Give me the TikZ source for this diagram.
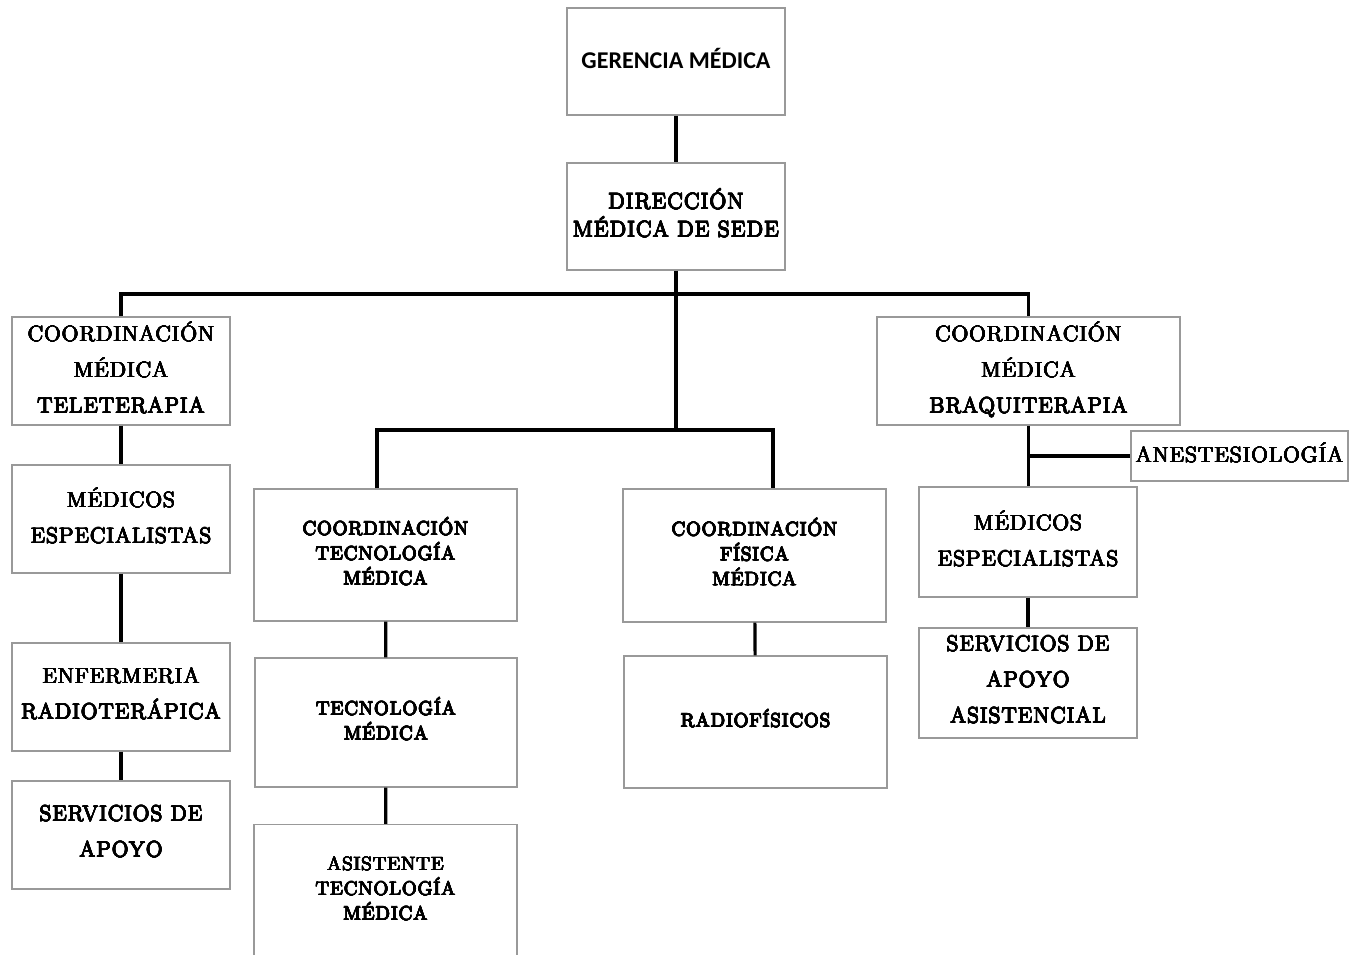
\documentclass[tikz,border=0pt]{standalone}
\usepackage{fontspec}
\usepackage[copies]{contour}
\usepackage{tikz}
\usetikzlibrary{positioning}
\newfontfamily\gerfont{Carlito}
\newfontfamily\cajafont{Latin Modern Roman}[LetterSpace=4]
\contourlength{0.22pt}
\contournumber{12}
\newcommand{\gr}[1]{\contour{black}{#1}}

\tikzset{
  caja/.style={rectangle, draw=black!40, line width=0.8pt, align=center, inner sep=1pt,
    text depth=4pt, font=\cajafont\fontsize{12.5}{20.4}\selectfont},
  cajachica/.style={caja, font=\cajafont\fontsize{10.9}{14.2}\selectfont},
  linea/.style={line width=1.8pt, black}
}

\begin{document}
\begin{tikzpicture}[x=0.02cm, y=-0.02cm]
  \useasboundingbox[fill=white] (0,0) rectangle (1353,954);

  % nivel superior
  \node[caja, minimum width=4.36cm, minimum height=2.14cm, font=\gerfont\bfseries\fontsize{13.7}{16}\selectfont] (ger) at (676,61.5) {GERENCIA MÉDICA};
  \node[caja, minimum width=4.36cm, minimum height=2.14cm, font=\cajafont\fontsize{12.7}{16}\selectfont] (dir) at (676,216.5) {\gr{DIRECCIÓN}\\\gr{MÉDICA DE SEDE}};

  % teleterapia
  \node[caja, minimum width=4.36cm, minimum height=2.16cm] (cmt) at (121,371) {\gr{COORDINACIÓN}\\\gr{MÉDICA}\\\gr{TELETERAPIA}};
  \node[caja, minimum width=4.36cm, minimum height=2.16cm] (mel) at (121,519) {\gr{MÉDICOS}\\\gr{ESPECIALISTAS}};
  \node[caja, minimum width=4.36cm, minimum height=2.16cm] (enf) at (121,697) {\gr{ENFERMERIA}\\\gr{RADIOTERÁPICA}};
  \node[caja, minimum width=4.36cm, minimum height=2.16cm] (sap) at (121,835) {\gr{SERVICIOS DE}\\\gr{APOYO}};

  % tecnologia medica
  \node[cajachica, minimum width=5.26cm, minimum height=2.64cm] (ctm) at (385.5,555) {\gr{COORDINACIÓN}\\\gr{TECNOLOGÍA}\\\gr{MÉDICA}};
  \node[cajachica, minimum width=5.24cm, minimum height=2.58cm] (tec) at (386,722.5) {\gr{TECNOLOGÍA}\\\gr{MÉDICA}};
  \node[cajachica, minimum width=5.26cm, minimum height=2.70cm] (ast) at (385.5,892) {\gr{ASISTENTE}\\\gr{TECNOLOGÍA}\\\gr{MÉDICA}};

  % fisica medica
  \node[cajachica, minimum width=5.26cm, minimum height=2.66cm] (cfm) at (754.5,555.5) {\gr{COORDINACIÓN}\\\gr{FÍSICA}\\\gr{MÉDICA}};
  \node[cajachica, minimum width=5.26cm, minimum height=2.64cm] (rad) at (755.5,722) {\gr{RADIOFÍSICOS}};

  % braquiterapia
  \node[caja, minimum width=6.06cm, minimum height=2.16cm] (cmb) at (1028.5,371) {\gr{COORDINACIÓN}\\\gr{MÉDICA}\\\gr{BRAQUITERAPIA}};
  \node[caja, minimum width=4.34cm, minimum height=1.0cm] (ane) at (1239.5,456) {\gr{ANESTESIOLOGÍA}};
  \node[caja, minimum width=4.36cm, minimum height=2.20cm] (mer) at (1028,542) {\gr{MÉDICOS}\\\gr{ESPECIALISTAS}};
  \node[caja, minimum width=4.36cm, minimum height=2.20cm] (saa) at (1028,683) {\gr{SERVICIOS DE}\\\gr{APOYO}\\\gr{ASISTENCIAL}};

  \coordinate (busT) at (676,294);
  \coordinate (busM) at (676,430);
  \coordinate (tl) at (377,430);
  \coordinate (tr) at (773,430);

  \draw[linea] (ger) -- (dir);
  \draw[linea] (dir.south) -- (busM);
  \draw[linea] (cmt.north) -- (cmt.north |- busT) -- (cmb.north |- busT) -- (cmb.north);
  \draw[linea] (ctm.north -| tl) -- (tl) -- (tr) -- (cfm.north -| tr);

  \draw[linea] (cmt) -- (mel);
  \draw[linea] (mel) -- (enf);
  \draw[linea] (enf) -- (sap);

  \draw[linea] (ctm) -- (tec);
  \draw[linea] (tec) -- (ast);
  \draw[linea] (cfm) -- (rad);

  \draw[linea] (cmb.south) -- (cmb.south |- mer.north);
  \draw[linea] (cmb.south |- ane.west) -- (ane.west);
  \draw[linea] (mer) -- (saa);
\end{tikzpicture}
\end{document}
